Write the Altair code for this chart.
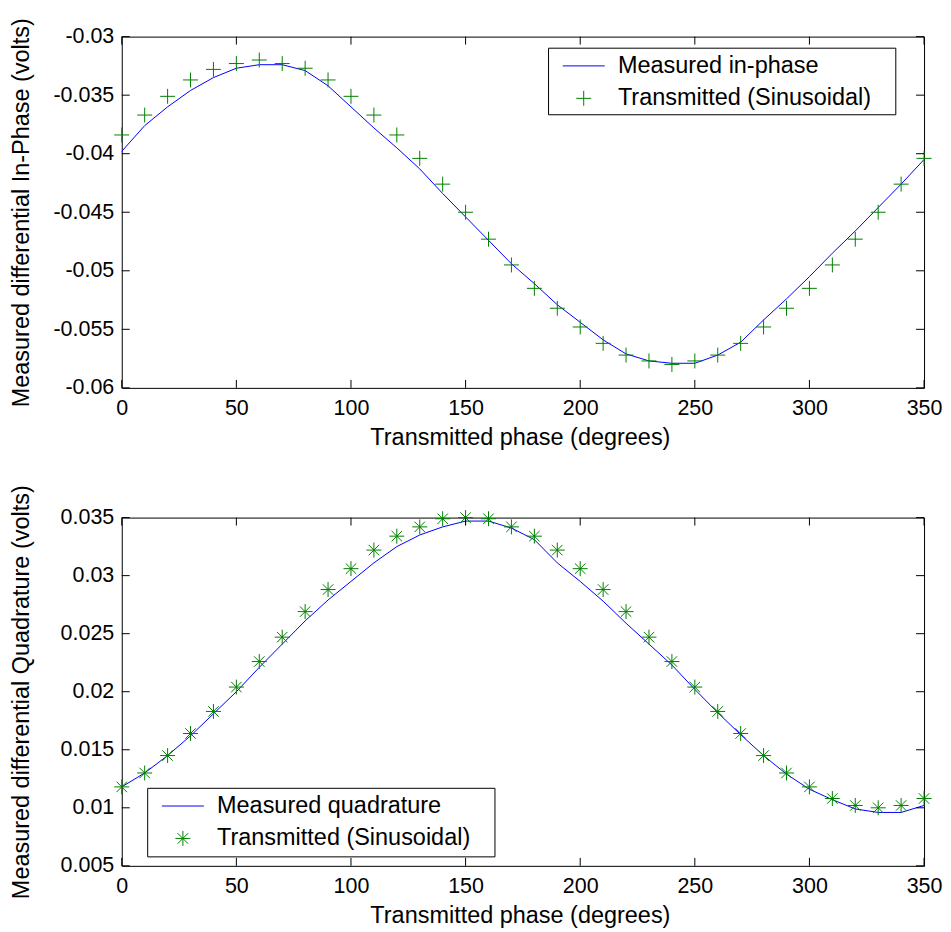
import altair as alt
import pandas as pd

# ---------------- data ----------------
phase = [0, 10, 20, 30, 40, 50, 60, 70, 80, 90, 100, 110, 120, 130, 140, 150, 160, 170,
         180, 190, 200, 210, 220, 230, 240, 250, 260, 270, 280, 290, 300, 310, 320, 330, 340, 350]

inphase_measured = [-0.0398, -0.0376, -0.0360, -0.0346, -0.0335, -0.0327, -0.0324, -0.0324,
                    -0.0329, -0.0342, -0.0360, -0.0378, -0.0395, -0.0413, -0.0434, -0.0454,
                    -0.0474, -0.0494, -0.0511, -0.0529, -0.0544, -0.0559, -0.0571, -0.0577,
                    -0.0579, -0.0579, -0.0572, -0.0561, -0.0542, -0.0524, -0.0505, -0.0485,
                    -0.0466, -0.0446, -0.0426, -0.0405]

inphase_transmitted = [-0.0384, -0.0367, -0.0351, -0.0337, -0.0328, -0.0323, -0.0320, -0.0323,
                       -0.0327, -0.0337, -0.0351, -0.0367, -0.0384, -0.0404, -0.0426, -0.0450,
                       -0.0473, -0.0495, -0.0515, -0.0532, -0.0548, -0.0562, -0.0572, -0.0577,
                       -0.0580, -0.0577, -0.0572, -0.0562, -0.0548, -0.0532, -0.0515, -0.0495,
                       -0.0473, -0.0450, -0.0426, -0.0404]

quad_measured = [0.0118, 0.0130, 0.0145, 0.0162, 0.0181, 0.0200, 0.0221, 0.0241, 0.0261, 0.0279,
                 0.0295, 0.0311, 0.0325, 0.0335, 0.0342, 0.0347, 0.0347, 0.0341, 0.0331, 0.0311,
                 0.0295, 0.0278, 0.0259, 0.0241, 0.0223, 0.0202, 0.0182, 0.0163, 0.0145, 0.0129,
                 0.0116, 0.0107, 0.0099, 0.0096, 0.0096, 0.0102]

quad_transmitted = [0.0118, 0.0130, 0.0145, 0.0164, 0.0183, 0.0204, 0.0226, 0.0247, 0.0269, 0.0288,
                    0.0306, 0.0322, 0.0334, 0.0342, 0.0349, 0.0350, 0.0349, 0.0342, 0.0334, 0.0322,
                    0.0306, 0.0288, 0.0269, 0.0247, 0.0226, 0.0204, 0.0183, 0.0164, 0.0145, 0.0130,
                    0.0118, 0.0108, 0.0102, 0.0100, 0.0102, 0.0108]

x_ticks = [0, 50, 100, 150, 200, 250, 300, 350]
y_ticks_top = [-0.06, -0.055, -0.05, -0.045, -0.04, -0.035, -0.03]
y_ticks_bottom = [0.005, 0.01, 0.015, 0.02, 0.025, 0.03, 0.035]

X_TITLE = "Transmitted phase (degrees)"
TOP_Y_TITLE = "Measured differential In-Phase (volts)"
BOTTOM_Y_TITLE = "Measured differential Quadrature (volts)"
TOP_LINE_LABEL = "Measured in-phase"
BOTTOM_LINE_LABEL = "Measured quadrature"
MARKER_LABEL = "Transmitted (Sinusoidal)"

# ---------------- style ----------------
BLUE = "#0000ff"
GREEN = "#008000"
FONT = "Liberation Sans"
PLUS = "M-1,0L1,0M0,-1L0,1"
STAR = "M-1,0L1,0M0,-1L0,1M-0.7,-0.7L0.7,0.7M-0.7,0.7L0.7,-0.7"
LINE_SYM = "M-2.8,0L2.8,0"
W = 804
TICK = 8
LEG_W = 348
Y_LABEL_EXPR = "(datum.value < 0 ? '-' : '') + format(abs(datum.value), '.3~f')"


def panel(measured, transmitted, yticks, ydomain, ytitle, line_label, marker, H, bx, by, bh):
    xs = alt.Scale(domain=[0, 350], nice=False, zero=False)
    ys = alt.Scale(domain=ydomain, nice=False, zero=False)

    x_axis = alt.Axis(values=x_ticks, title=X_TITLE, format="d", grid=False, domain=False,
                      ticks=False, tickSize=0, labelFlush=False, labelOverlap=False,
                      labelFontSize=21.5, labelColor="black",
                      labelPadding=9.5, labelFont=FONT, titleFont=FONT, titleFontSize=23.5,
                      titleFontWeight="normal", titleColor="black", titleX=399, titleY=56.5,
                      titleBaseline="alphabetic")
    y_axis = alt.Axis(values=yticks, title=ytitle, labelExpr=Y_LABEL_EXPR, grid=False,
                      domain=False, ticks=False, tickSize=0, labelFlush=False,
                      labelOverlap=False, labelFontSize=21.5,
                      labelColor="black", labelPadding=8, labelFont=FONT, titleFont=FONT,
                      titleFontSize=23.5, titleFontWeight="normal", titleColor="black",
                      titleX=-93.5, titleY=H / 2, titleAngle=270, titleBaseline="alphabetic",
                      titleAlign="center")

    df_line = pd.DataFrame({"phase": phase, "value": measured})
    df_pts = pd.DataFrame({"phase": phase, "value": transmitted,
                           "series": [MARKER_LABEL] * len(phase)})

    legend = alt.Legend(orient="none", legendX=bx, legendY=by + 6, title=None, padding=0,
                        symbolOffset=23.5, labelOffset=22.5, rowPadding=7.5,
                        labelFontSize=23.5, labelFont=FONT, labelColor="black",
                        symbolSize=225, symbolStrokeWidth=1, labelLimit=400)
    domain = [line_label, MARKER_LABEL]

    line = alt.Chart(df_line).mark_line(color=BLUE, strokeWidth=1).encode(
        x=alt.X("phase:Q", scale=xs, axis=x_axis),
        y=alt.Y("value:Q", scale=ys, axis=y_axis),
    )
    pts = alt.Chart(df_pts).mark_point(filled=False, strokeWidth=1, size=225, opacity=1).encode(
        x=alt.X("phase:Q", scale=xs, axis=x_axis),
        y=alt.Y("value:Q", scale=ys, axis=y_axis),
        color=alt.Color("series:N", scale=alt.Scale(domain=domain, range=[BLUE, GREEN]),
                        legend=legend),
        shape=alt.Shape("series:N", scale=alt.Scale(domain=domain, range=[LINE_SYM, marker]),
                        legend=legend),
    )

    xt = pd.DataFrame({"phase": x_ticks})
    yt = pd.DataFrame({"value": yticks})
    rx_bottom = alt.Chart(xt).mark_rule(color="black", strokeWidth=1).encode(
        x=alt.X("phase:Q", scale=xs, axis=x_axis), y=alt.value(H), y2=alt.value(H - TICK))
    rx_top = alt.Chart(xt).mark_rule(color="black", strokeWidth=1).encode(
        x=alt.X("phase:Q", scale=xs, axis=x_axis), y=alt.value(0), y2=alt.value(TICK))
    ry_left = alt.Chart(yt).mark_rule(color="black", strokeWidth=1).encode(
        y=alt.Y("value:Q", scale=ys, axis=y_axis), x=alt.value(0), x2=alt.value(TICK))
    ry_right = alt.Chart(yt).mark_rule(color="black", strokeWidth=1).encode(
        y=alt.Y("value:Q", scale=ys, axis=y_axis), x=alt.value(W - TICK), x2=alt.value(W))

    # legend frame (white box with black border)
    frame = alt.Chart(pd.DataFrame({"box": [1]})).mark_rect(
        fill="white", stroke="black", strokeWidth=1
    ).encode(x=alt.value(bx), x2=alt.value(bx + LEG_W), y=alt.value(by), y2=alt.value(by + bh))

    return alt.layer(line, pts, rx_bottom, rx_top, ry_left, ry_right, frame).properties(
        width=W, height=H)


top = panel(inphase_measured, inphase_transmitted, y_ticks_top, [-0.06, -0.03], TOP_Y_TITLE,
            TOP_LINE_LABEL, PLUS, 352, 427.7, 11.6, 66.7)
bottom = panel(quad_measured, quad_transmitted, y_ticks_bottom, [0.005, 0.035], BOTTOM_Y_TITLE,
               BOTTOM_LINE_LABEL, STAR, 349, 26, 271.3, 68.7)

chart = alt.vconcat(top, bottom, spacing=130, bounds="flush").resolve_scale(
    color="independent", shape="independent"
).resolve_legend(
    color="independent", shape="independent"
).properties(
    padding={"left": 0, "top": 7.7, "right": 0, "bottom": 0}
).configure(font=FONT).configure_view(stroke="black", strokeWidth=1)

chart.save("out.html", embed_options={"renderer": "svg", "actions": False})
